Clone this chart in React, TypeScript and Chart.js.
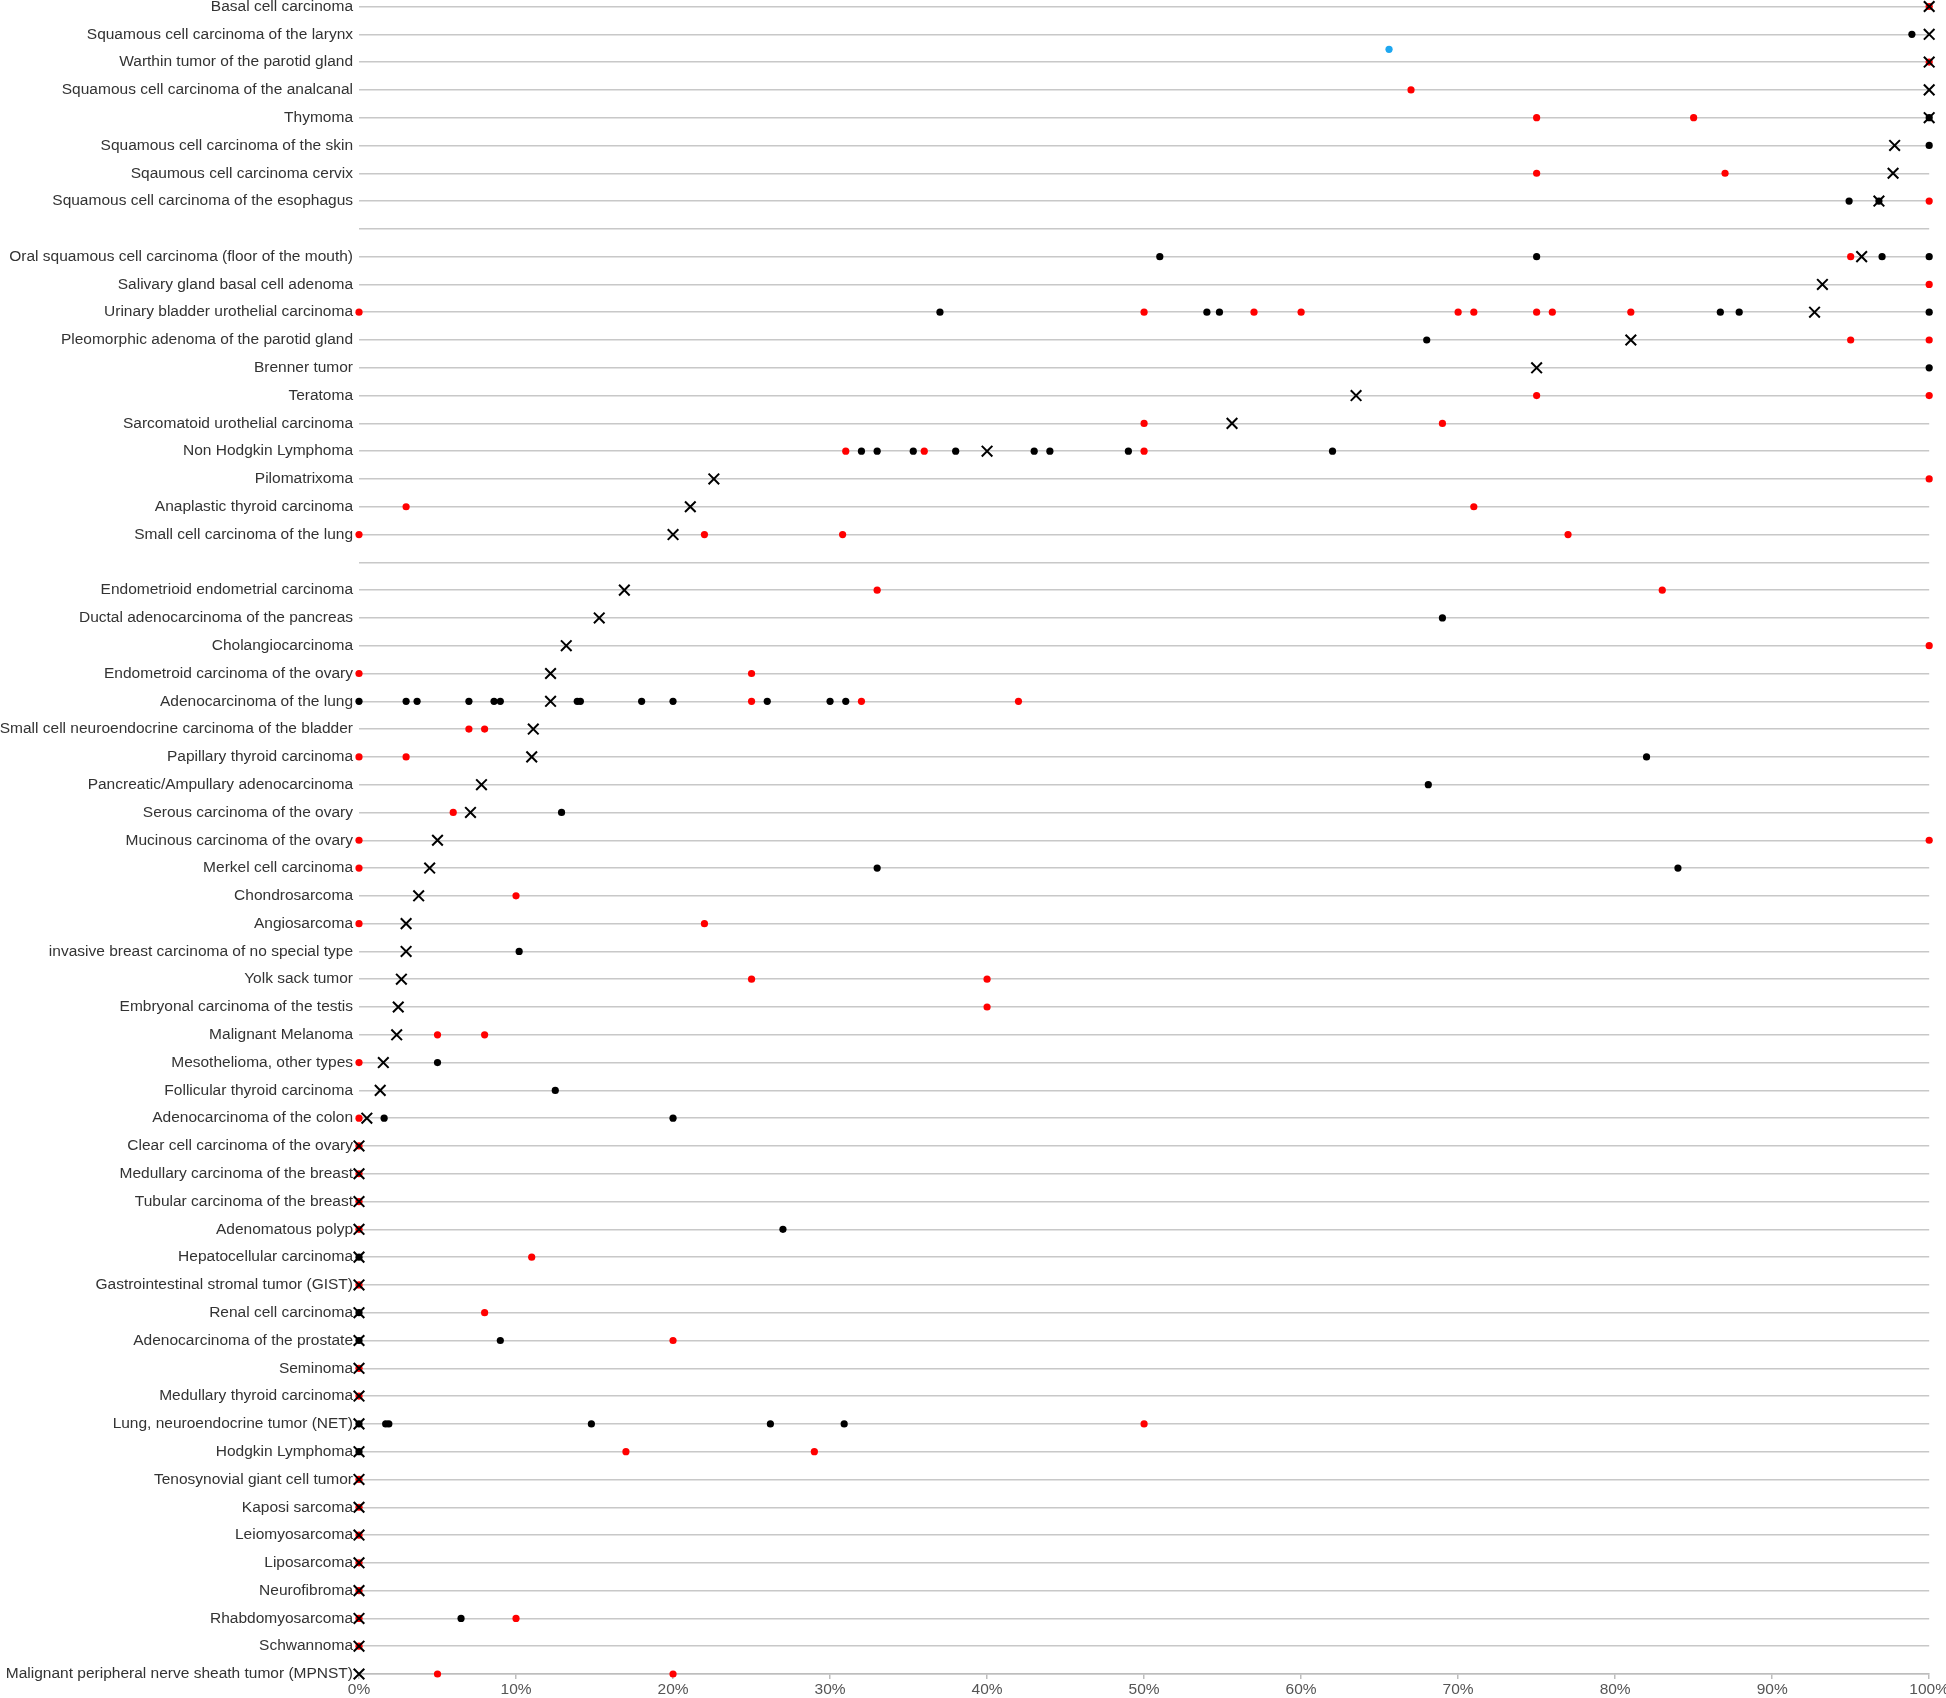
import React, { useEffect, useRef } from 'react';
import { Chart, registerables } from 'chart.js';

Chart.register(...registerables);

const categories: string[] = [
  'Basal cell carcinoma',
  'Squamous cell carcinoma of the larynx',
  'Warthin tumor of the parotid gland',
  'Squamous cell carcinoma of the analcanal',
  'Thymoma',
  'Squamous cell carcinoma of the skin',
  'Sqaumous cell carcinoma cervix',
  'Squamous cell carcinoma of the esophagus',
  '',
  'Oral squamous cell carcinoma (floor of the mouth)',
  'Salivary gland basal cell adenoma',
  'Urinary bladder urothelial carcinoma',
  'Pleomorphic adenoma of the parotid gland',
  'Brenner tumor',
  'Teratoma',
  'Sarcomatoid urothelial carcinoma',
  'Non Hodgkin Lymphoma',
  'Pilomatrixoma',
  'Anaplastic thyroid carcinoma',
  'Small cell carcinoma of the lung',
  '',
  'Endometrioid endometrial carcinoma',
  'Ductal adenocarcinoma of the pancreas',
  'Cholangiocarcinoma',
  'Endometroid carcinoma of the ovary',
  'Adenocarcinoma of the lung',
  'Small cell neuroendocrine carcinoma of the bladder',
  'Papillary thyroid carcinoma',
  'Pancreatic/Ampullary adenocarcinoma',
  'Serous carcinoma of the ovary',
  'Mucinous carcinoma of the ovary',
  'Merkel cell carcinoma',
  'Chondrosarcoma',
  'Angiosarcoma',
  'invasive breast carcinoma of no special type',
  'Yolk sack tumor',
  'Embryonal carcinoma of the testis',
  'Malignant Melanoma',
  'Mesothelioma, other types',
  'Follicular thyroid carcinoma',
  'Adenocarcinoma of the colon',
  'Clear cell carcinoma of the ovary',
  'Medullary carcinoma of the breast',
  'Tubular carcinoma of the breast',
  'Adenomatous polyp',
  'Hepatocellular carcinoma',
  'Gastrointestinal stromal tumor (GIST)',
  'Renal cell carcinoma',
  'Adenocarcinoma of the prostate',
  'Seminoma',
  'Medullary thyroid carcinoma',
  'Lung, neuroendocrine tumor (NET)',
  'Hodgkin Lymphoma',
  'Tenosynovial giant cell tumor',
  'Kaposi sarcoma',
  'Leiomyosarcoma',
  'Liposarcoma',
  'Neurofibroma',
  'Rhabdomyosarcoma',
  'Schwannoma',
  'Malignant peripheral nerve sheath tumor (MPNST)',
];

// X marker (summary value) per category, null for spacer rows
const crossValues: (number | null)[] = [
  100, 100, 100, 100, 100, 97.8, 97.7, 96.8,
  null,
  95.7, 93.2, 92.7, 81, 75, 63.5, 55.6, 40, 22.6, 21.1, 20,
  null,
  16.9, 15.3, 13.2, 12.2, 12.2, 11.1, 11.0, 7.8, 7.1, 5.0, 4.5, 3.8, 3.0, 3.0, 2.7, 2.5, 2.4, 1.55, 1.35, 0.5,
  0, 0, 0, 0, 0, 0, 0, 0, 0, 0, 0, 0, 0, 0, 0, 0, 0, 0, 0, 0,
];

// red dots per category
const redValues: number[][] = [
  [100], [], [100], [67], [75, 85], [], [75, 87], [100],
  [],
  [95], [100], [0, 50, 57, 60, 70, 71, 75, 76, 81], [95, 100], [], [75, 100], [50, 69], [31, 36, 50], [100], [3, 71], [0, 22, 30.8, 77],
  [],
  [33, 83], [], [100], [0, 25], [25, 32, 42], [7, 8], [0, 3], [], [6], [0, 100], [0], [10], [0, 22], [], [25, 40], [40], [5, 8], [0], [], [0],
  [0], [0], [0], [0], [11], [0], [8], [20], [0], [0], [50], [17, 29], [0], [0], [0], [0], [0], [0, 10], [0], [5, 20],
];

// black dots per category
const blackValues: number[][] = [
  [], [98.9], [], [], [100], [100], [], [94.9, 96.8],
  [],
  [51, 75, 97, 100], [], [37, 54, 54.8, 86.7, 87.9, 100], [68], [100], [], [], [32, 33, 35.3, 38, 43, 44, 49, 62], [], [], [],
  [],
  [], [69], [], [], [0, 3, 3.7, 7, 8.6, 9, 13.9, 14.1, 18, 20, 26, 30, 31], [], [82], [68.1], [12.9], [], [33, 84], [], [], [10.2], [], [], [], [5], [12.5], [1.6, 20],
  [], [], [], [27], [0], [], [0], [0, 9], [], [], [0, 1.7, 1.9, 14.8, 26.2, 30.9], [0], [], [], [], [], [], [6.5], [], [],
];

// single light-blue point (row position, value)
const blueRows: number[] = [1.54];
const blueValues: number[] = [65.6];

const xTickStep = 10;

const FONT = "'Liberation Sans', Arial, Helvetica, sans-serif";

export default function App() {
  const canvasRef = useRef<HTMLCanvasElement | null>(null);

  useEffect(() => {
    document.body.style.margin = '0';
    const canvas = canvasRef.current;
    if (!canvas) return;

    const toPoints = (vals: number[][]) =>
      vals.flatMap((row, i) => row.map((v) => ({ x: v, y: i })));
    const crossPoints = crossValues
      .map((v, i) => (v === null ? null : { x: v, y: i }))
      .filter((p) => p !== null) as { x: number; y: number }[];
    const bluePoints = blueRows.map((r, i) => ({ x: blueValues[i], y: r }));

    const chart = new Chart(canvas, {
      type: 'scatter',
      data: {
        datasets: [
          {
            label: 'summary',
            data: crossPoints,
            pointStyle: 'crossRot',
            pointRadius: 7.5,
            pointBorderWidth: 2,
            borderColor: '#000000',
            backgroundColor: '#000000',
            clip: false,
            order: 0,
          } as any,
          {
            label: 'black',
            data: toPoints(blackValues),
            pointStyle: 'circle',
            pointRadius: 3.6,
            pointBorderWidth: 0,
            backgroundColor: '#000000',
            borderColor: '#000000',
            clip: false,
            order: 1,
          },
          {
            label: 'red',
            data: toPoints(redValues),
            pointStyle: 'circle',
            pointRadius: 3.6,
            pointBorderWidth: 0,
            backgroundColor: '#ff0000',
            borderColor: '#ff0000',
            clip: false,
            order: 2,
          },
          {
            label: 'blue',
            data: bluePoints,
            pointStyle: 'circle',
            pointRadius: 3.6,
            pointBorderWidth: 0,
            backgroundColor: '#1ea7f0',
            borderColor: '#1ea7f0',
            clip: false,
            order: 3,
          },
        ],
      },
      options: {
        animation: false,
        responsive: false,
        devicePixelRatio: 1,
        layout: { padding: { top: 0, right: 0, bottom: 0, left: 0 } },
        plugins: {
          legend: { display: false },
          tooltip: { enabled: false },
        },
        scales: {
          x: {
            type: 'linear',
            min: 0,
            max: 100,
            border: { display: true, color: '#bdbdbd', width: 1.5 },
            grid: {
              drawOnChartArea: false,
              drawTicks: true,
              tickLength: 5,
              color: '#bdbdbd',
              lineWidth: 1.5,
            },
            ticks: {
              stepSize: xTickStep,
              maxRotation: 0,
              padding: 3,
              color: '#555555',
              font: { family: FONT, size: 15.5, lineHeight: 1 },
              callback: (v: any) => `${v}%`,
            },
            afterFit: (scale: any) => {
              scale.height = 24;
            },
          },
          y: {
            type: 'linear',
            reverse: true,
            min: 0,
            max: categories.length - 1,
            border: { display: false },
            grid: {
              drawTicks: false,
              color: '#c8c8c8',
              lineWidth: 1.5,
            },
            ticks: {
              stepSize: 1,
              autoSkip: false,
              padding: 6,
              color: '#333333',
              font: { family: FONT, size: 15.5, lineHeight: 0.02 },
              callback: (v: any) => categories[Number(v)] ?? '',
            },
            afterFit: (scale: any) => {
              scale.width = 359;
            },
          },
        },
      },
    });

    return () => chart.destroy();
  }, []);

  return (
    <div style={{ width: 1946, height: 1698, overflow: 'hidden' }}>
      <canvas
        ref={canvasRef}
        width={1952}
        height={1701}
        style={{ display: 'block', marginTop: -3 }}
      />
    </div>
  );
}
